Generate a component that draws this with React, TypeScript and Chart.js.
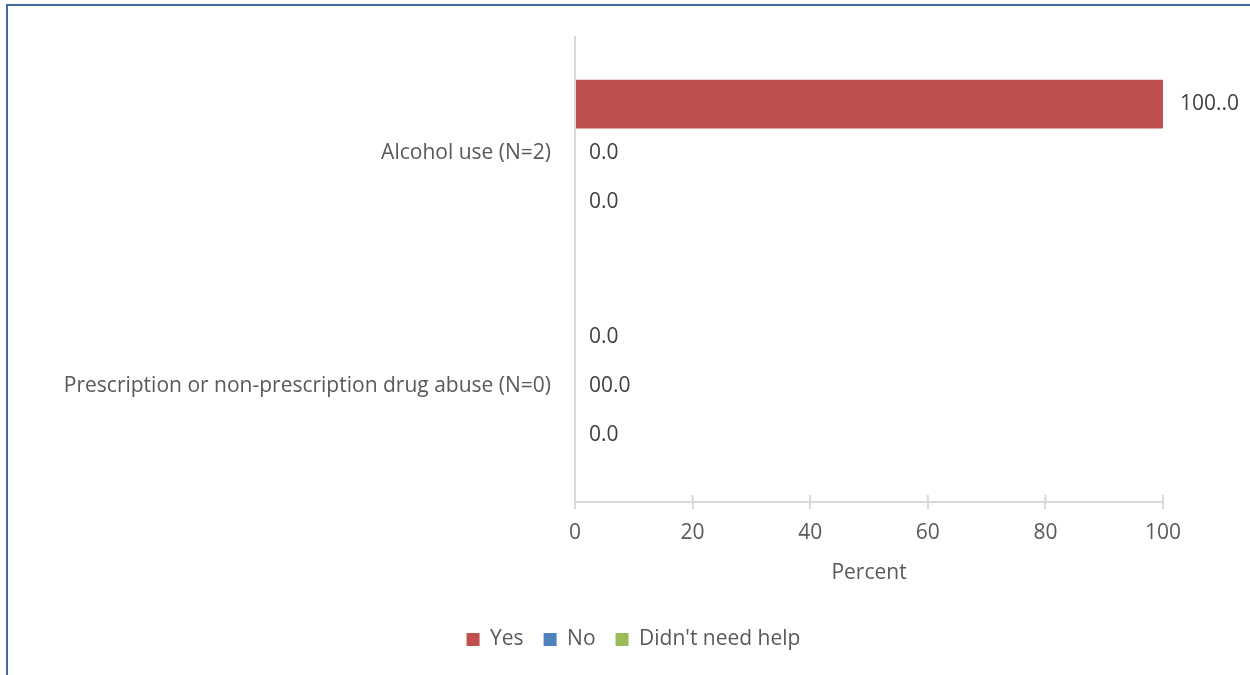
import React, { useEffect, useRef } from "react";
import { Chart, registerables } from "chart.js";

Chart.register(...registerables);

const categories = ["Alcohol use (N=2)", "Prescription or non-prescription drug abuse (N=0)"];
const seriesNames = ["Yes", "No", "Didn't need help"];
const yesValues = [100, 0];
const noValues = [0, 0];
const didntValues = [0, 0];
const yesLabels = ["100..0", "0.0"];
const noLabels = ["0.0", "00.0"];
const didntLabels = ["0.0", "0.0"];
const xTicks = [0, 20, 40, 60, 80, 100];
const axisTitle = "Percent";

const FONT = "'Open Sans', sans-serif";
const FS = 21;

const dataLabelPlugin = {
  id: "dataLabels",
  afterDatasetsDraw(chart: any) {
    const ctx = chart.ctx;
    const all = [yesLabels, noLabels, didntLabels];
    ctx.save();
    ctx.font = `${FS}px ${FONT}`;
    ctx.fillStyle = "#404040";
    ctx.textBaseline = "middle";
    ctx.textAlign = "left";
    chart.data.datasets.forEach((ds: any, di: number) => {
      const meta = chart.getDatasetMeta(di);
      meta.data.forEach((el: any, i: number) => {
        ctx.fillText(all[di][i], el.x + (all[di][i].length > 4 ? 17 : 14), el.y);
      });
    });
    ctx.restore();
  },
};

const crossTickPlugin = {
  id: "crossTicks",
  afterDraw(chart: any) {
    const ctx = chart.ctx;
    const xs = chart.scales.x;
    const y = chart.chartArea.bottom;
    ctx.save();
    ctx.strokeStyle = "#D9D9D9";
    ctx.lineWidth = 2;
    xs.ticks.forEach((t: any) => {
      const px = xs.getPixelForValue(t.value);
      ctx.beginPath();
      ctx.moveTo(px, y - 7);
      ctx.lineTo(px, y);
      ctx.stroke();
    });
    ctx.restore();
  },
};

export default function App() {
  const ref = useRef<HTMLCanvasElement>(null);
  useEffect(() => {
    if (!ref.current) return;
    const chart = new Chart(ref.current, {
      type: "bar",
      data: {
        labels: categories,
        datasets: [
          { label: seriesNames[0], data: yesValues, backgroundColor: "#C0504D" },
          { label: seriesNames[1], data: noValues, backgroundColor: "#4F81BD" },
          { label: seriesNames[2], data: didntValues, backgroundColor: "#9BBB59" },
        ],
      },
      options: {
        indexAxis: "y",
        animation: false,
        responsive: false,
        maintainAspectRatio: false,
        datasets: { bar: { categoryPercentage: 0.63, barPercentage: 1 } },
        layout: { padding: { top: 35, left: 17, right: 0, bottom: 15 } },
        plugins: {
          tooltip: { enabled: false },
          legend: {
            position: "bottom",
            labels: {
              font: { family: FONT, size: FS },
              color: "#595959",
              boxWidth: 13,
              boxHeight: 13,
              padding: 20,
            },
          },
        },
        scales: {
          x: {
            min: 0,
            max: 100,
            afterBuildTicks: (scale: any) => {
              scale.ticks = xTicks.map((v) => ({ value: v }));
            },
            afterFit: (scale: any) => {
              scale.height = 107;
            },
            ticks: { font: { family: FONT, size: FS }, color: "#595959", padding: 11 },
            grid: { drawOnChartArea: false, color: "#D9D9D9", tickLength: 7, lineWidth: 2 },
            border: { color: "#D9D9D9", width: 2 },
            title: {
              display: true,
              text: axisTitle,
              font: { family: FONT, size: FS },
              color: "#595959",
              padding: { top: 4, bottom: 23 },
            },
          },
          y: {
            afterFit: (scale: any) => {
              scale.width = 558;
            },
            ticks: { font: { family: FONT, size: FS }, color: "#595959", padding: 24 },
            grid: { drawOnChartArea: false, drawTicks: false, color: "transparent" },
            border: { color: "#D9D9D9", width: 2 },
          },
          yRight: {
            type: "category",
            position: "right",
            afterFit: (scale: any) => {
              scale.width = 87;
            },
            ticks: { display: false },
            grid: { display: false, drawTicks: false },
            border: { display: false },
          },
        },
      },
      plugins: [dataLabelPlugin, crossTickPlugin],
    });
    return () => chart.destroy();
  }, []);
  return (
    <div style={{ position: "absolute", left: 0, top: 0, width: 1250, height: 675, overflow: "hidden", background: "#fff" }}>
      <div
        style={{
          position: "absolute",
          left: 6,
          top: 4,
          width: 1300,
          height: 700,
          borderTop: "2px solid #3E6A9E",
          borderLeft: "2px solid #3E6A9E",
        }}
      />
      <canvas ref={ref} width={1250} height={675} style={{ position: "absolute", left: 0, top: 0 }} />
    </div>
  );
}
